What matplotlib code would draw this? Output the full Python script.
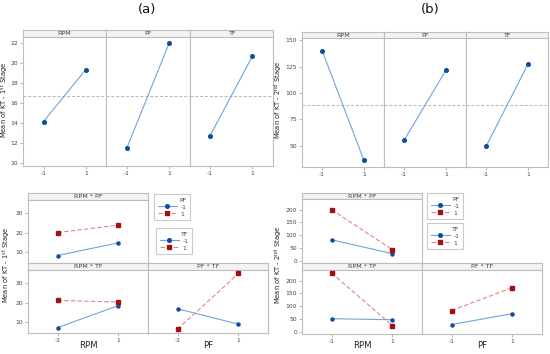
import matplotlib
matplotlib.use("Agg")
import matplotlib.pyplot as plt
from matplotlib.lines import Line2D

# ---------------- data ----------------
factors = ["RPM", "PF", "TF"]
levels = [-1, 1]
tick_labels = ["-1", "1"]

# (a) main effects, KT - 1st stage
a_main_rpm = [14.15, 19.35]
a_main_pf = [11.5, 22.0]
a_main_tf = [12.75, 20.7]
a_mean = 16.75

# (b) main effects, KT - 2nd stage
b_main_rpm = [140.0, 36.5]
b_main_pf = [55.4, 121.4]
b_main_tf = [49.7, 127.0]
b_mean = 88.3

# (a) interactions (low = -1 level of second factor, high = +1)
a_rpm_pf_lo = [8.1, 14.7]
a_rpm_pf_hi = [20.05, 23.9]
a_rpm_tf_lo = [7.0, 18.5]
a_rpm_tf_hi = [21.2, 20.3]
a_pf_tf_lo = [16.8, 8.8]
a_pf_tf_hi = [6.2, 35.2]

# (b) interactions
b_rpm_pf_lo = [82.0, 27.5]
b_rpm_pf_hi = [200.0, 43.0]
b_rpm_tf_lo = [51.0, 47.0]
b_rpm_tf_hi = [230.0, 24.0]
b_pf_tf_lo = [28.0, 71.0]
b_pf_tf_hi = [83.0, 173.0]

# ---------------- style ----------------
W, H = 550, 354
BLUE_L = "#72a3dc"
BLUE_M = "#0c4da2"
RED_L = "#d88a8a"
RED_M = "#a01212"
GRAY = "#bdbdbd"
TXT = "#444444"
TICK_FS = 4.3

fig = plt.figure(figsize=(W / 100, H / 100), dpi=100)
fig.patch.set_facecolor("white")


def rect(x0, y0, x1, y1):
    return [x0 / W, 1 - y1 / H, (x1 - x0) / W, (y1 - y0) / H]


def ftext(x, y, s, **kw):
    return fig.text(x / W, 1 - y / H, s, **kw)


def strip(x0, y0, x1, y1, label):
    s = fig.add_axes(rect(x0, y0, x1, y1))
    s.set_facecolor("#f3f3f3")
    s.set_xticks([])
    s.set_yticks([])
    for sp in s.spines.values():
        sp.set_color(GRAY)
        sp.set_linewidth(0.8)
    s.text(0.5, 0.45, label, ha="center", va="center", fontsize=4.6,
           color=TXT, transform=s.transAxes)
    return s


def panel(x0, y0, x1, y1, ylim, yticks, show_y, show_x, xlim=(-1.97, 1.97)):
    ax = fig.add_axes(rect(x0, y0, x1, y1))
    ax.set_xlim(*xlim)
    ax.set_ylim(*ylim)
    ax.set_yticks(yticks)
    ax.set_xticks(levels)
    for sp in ax.spines.values():
        sp.set_color(GRAY)
        sp.set_linewidth(0.8)
    ax.tick_params(axis="both", length=2, width=0.5, color="#999999",
                   labelsize=TICK_FS, labelcolor=TXT, pad=1.5)
    if show_x:
        ax.set_xticklabels(tick_labels)
    else:
        ax.tick_params(axis="x", length=0, labelbottom=False)
    if show_y:
        ax.set_yticklabels([str(t) for t in yticks])
    else:
        ax.tick_params(axis="y", length=0, labelleft=False)
    return ax


def main_effects(x0, x1, y_strip, y_top, y_bot, series, mean, ylim, yticks):
    n = len(series)
    xs = [x0 + (x1 - x0) * i / n for i in range(n + 1)]
    axes = []
    for i, (name, vals) in enumerate(series):
        strip(xs[i], y_strip, xs[i + 1], y_top, name)
        ax = panel(xs[i], y_top, xs[i + 1], y_bot, ylim, yticks, i == 0, True)
        ax.axhline(mean, color="#b5b5b5", ls=(0, (3, 2)), lw=0.7)
        ax.plot(levels, vals, color=BLUE_L, lw=0.8, marker="o", ms=2.6,
                mfc=BLUE_M, mec=BLUE_M, zorder=3)
        axes.append(ax)
    return axes


def inter_panel(x0, y0, x1, y1, lo, hi, ylim, yticks, show_y, show_x):
    ax = panel(x0, y0, x1, y1, ylim, yticks, show_y, show_x)
    ax.plot(levels, lo, color=BLUE_L, lw=0.8, marker="o", ms=2.2,
            mfc=BLUE_M, mec=BLUE_M, zorder=3)
    ax.plot(levels, hi, color=RED_L, lw=0.8, ls=(0, (4, 2)), marker="s", ms=2.2,
            mfc=RED_M, mec=RED_M, zorder=3)
    return ax


def add_legend(x0, y0, title):
    handles = [
        Line2D([], [], color=BLUE_L, lw=0.8, marker="o", ms=2.6, mfc=BLUE_M, mec=BLUE_M),
        Line2D([], [], color=RED_L, lw=0.8, ls=(0, (4, 2)), marker="s", ms=3.2,
               mfc=RED_M, mec=RED_M),
    ]
    leg = fig.legend(handles, tick_labels, title=title, loc="upper left",
                     bbox_to_anchor=(x0 / W, 1 - y0 / H), fontsize=4.3,
                     title_fontsize=4.5, frameon=True, fancybox=False,
                     handlelength=3.2, handletextpad=0.6, borderpad=0.6,
                     labelspacing=0.3, alignment="right", borderaxespad=0)
    leg.get_frame().set_edgecolor(GRAY)
    leg.get_frame().set_linewidth(0.8)
    for t in leg.get_texts():
        t.set_color(TXT)
    leg.get_title().set_color(TXT)
    return leg


LAB1 = "Mean of KT - 1$^{\\mathrm{st}}$ Stage"
LAB2 = "Mean of KT - 2$^{\\mathrm{nd}}$ Stage"
YL_KW = dict(rotation=90, ha="center", va="center", fontsize=4.9, color="#222222")
XL_KW = dict(ha="center", va="center", fontsize=6.2, color="#222222")

# ---------------- (a) main effects ----------------
main_effects(23, 273, 30, 37, 166,
             [("RPM", a_main_rpm), ("PF", a_main_pf), ("TF", a_main_tf)],
             a_mean, (9.7, 22.6), list(range(10, 23, 2)))
ftext(5, 100, LAB1, **YL_KW)

# ---------------- (b) main effects ----------------
main_effects(302, 548, 32, 38, 167,
             [("RPM", b_main_rpm), ("PF", b_main_pf), ("TF", b_main_tf)],
             b_mean, (30, 152), [50, 75, 100, 125, 150])
ftext(279, 100, LAB2, **YL_KW)

ftext(147, 10, "(a)", ha="center", va="center", fontsize=9.5, color="#111111")
ftext(430, 10, "(b)", ha="center", va="center", fontsize=9.5, color="#111111")

# ---------------- (a) interactions ----------------
a_ylim = (4.2, 37.0)
a_yt = [10, 20, 30]
strip(28, 193, 148, 200, "RPM * PF")
inter_panel(28, 200, 148, 263, a_rpm_pf_lo, a_rpm_pf_hi, a_ylim, a_yt, True, False)
strip(28, 263, 148, 270, "RPM * TF")
inter_panel(28, 270, 148, 333, a_rpm_tf_lo, a_rpm_tf_hi, a_ylim, a_yt, True, True)
strip(148, 263, 268, 270, "PF * TF")
inter_panel(148, 270, 268, 333, a_pf_tf_lo, a_pf_tf_hi, a_ylim, a_yt, False, True)
ftext(88, 346, "RPM", **XL_KW)
ftext(208, 346, "PF", **XL_KW)
ftext(7, 265, LAB1, **YL_KW)
add_legend(154, 194, "PF")
add_legend(156, 228, "TF")

# ---------------- (b) interactions ----------------
b_ylim = (-9, 242)
b_yt = [0, 50, 100, 150, 200]
strip(302, 193, 422, 199, "RPM * PF")
inter_panel(302, 199, 422, 263, b_rpm_pf_lo, b_rpm_pf_hi, b_ylim, b_yt, True, False)
strip(302, 263, 422, 270, "RPM * TF")
inter_panel(302, 270, 422, 334, b_rpm_tf_lo, b_rpm_tf_hi, b_ylim, b_yt, True, True)
strip(422, 263, 542, 270, "PF * TF")
inter_panel(422, 270, 542, 334, b_pf_tf_lo, b_pf_tf_hi, b_ylim, b_yt, False, True)
ftext(362, 346, "RPM", **XL_KW)
ftext(482, 346, "PF", **XL_KW)
ftext(279, 265, LAB2, **YL_KW)
add_legend(427, 193, "PF")
add_legend(427, 223, "TF")

fig.savefig("out.png", dpi=100, facecolor="white")
